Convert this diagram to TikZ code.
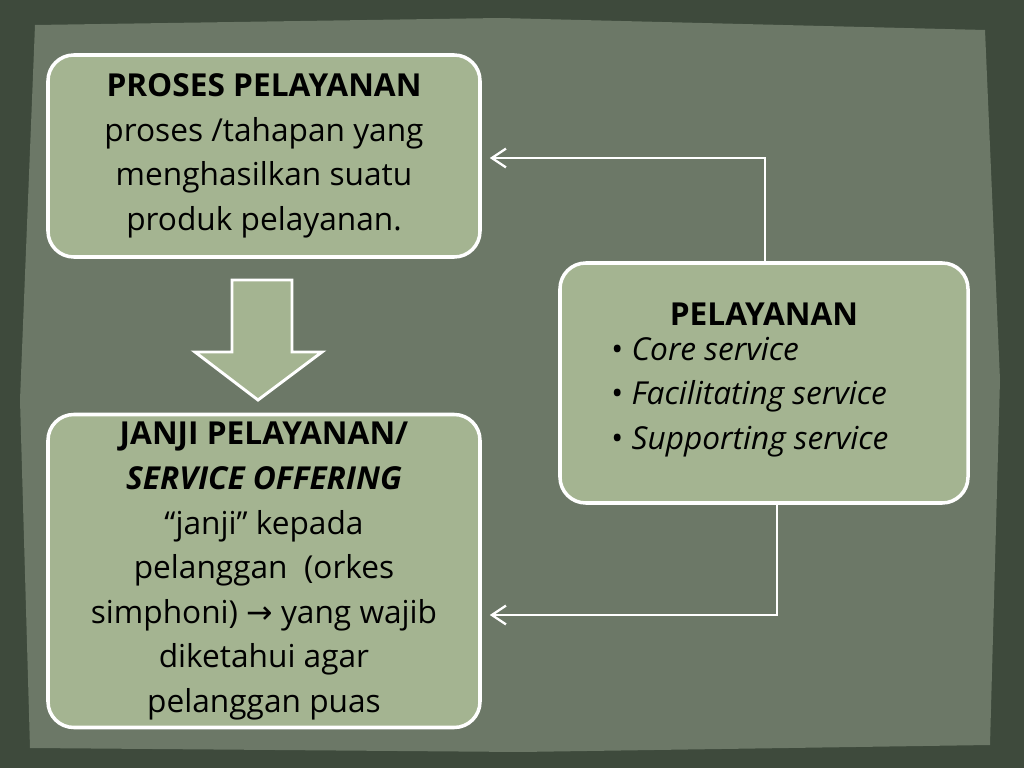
\documentclass[tikz,border=0pt]{standalone}
\usepackage{fontspec}
\setmainfont{Open Sans}
\newfontfamily\symfont{DejaVu Sans}
\usepackage{xcolor}
\definecolor{frame}{HTML}{3E4A3C}
\definecolor{paper}{HTML}{6C7867}
\definecolor{boxfill}{HTML}{A4B491}
\usetikzlibrary{arrows.meta}
\begin{document}
\begin{tikzpicture}[x=0.03cm,y=-0.03cm,
  box/.style={draw=white,line width=3pt,fill=boxfill,rounded corners=22pt,align=center,font=\fontsize{27}{38}\selectfont},
  link/.style={draw=white,line width=2pt,-{Straight Barb[length=12pt,width=16pt]}}]
\fill[frame] (0,0) rectangle (1024,768);
\fill[paper] (35,25) -- (500,18) -- (985,30) -- (1000,380) -- (990,745) -- (520,752) -- (30,748) -- (20,400) -- cycle;

% boxes
\node[box,minimum width=432*0.03cm,minimum height=202*0.03cm] (proses) at (264,156)
  {\textbf{PROSES PELAYANAN}\\proses /tahapan yang\\menghasilkan suatu\\produk pelayanan.};
\node[box,minimum width=432*0.03cm,minimum height=313*0.03cm] (janji) at (264,571)
  {\textbf{JANJI PELAYANAN/}\\\textbf{\textit{SERVICE OFFERING}}\\“janji” kepada\\pelanggan~~(orkes\\simphoni) {\symfont→} yang wajib\\diketahui agar\\pelanggan puas};
\node[box,minimum width=408*0.03cm,minimum height=240*0.03cm] (layan) at (764,383)
  {\textbf{PELAYANAN}\\[2pt]
   \begin{tabular}{@{}l@{}}• \textit{Core service}\\• \textit{Facilitating service}\\• \textit{Supporting service}\end{tabular}\hspace*{24pt}};

% block arrow
\draw[white,line width=2.5pt,fill=boxfill] (232,280) -- (292,280) -- (292,352) -- (322,352)
  -- (258,400) -- (195,352) -- (232,352) -- cycle;

% connectors
\coordinate (t1) at (765,158);
\coordinate (t2) at (777,615);
\draw[link] (layan.north -| t1) -- (t1) -- ([xshift=0.24cm]t1 -| proses.east);
\draw[link] (layan.south -| t2) -- (t2) -- ([xshift=0.24cm]t2 -| janji.east);
\end{tikzpicture}
\end{document}
